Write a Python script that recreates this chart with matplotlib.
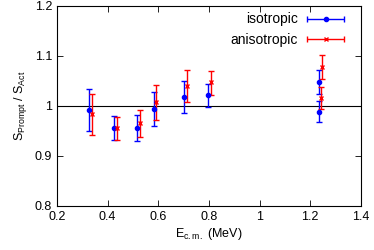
import numpy as np
import matplotlib
matplotlib.use("Agg")
import matplotlib.pyplot as plt
from matplotlib.container import ErrorbarContainer
from matplotlib.legend_handler import HandlerErrorbar

plt.rcParams['font.family'] = ['Liberation Sans', 'DejaVu Sans']

# isotropic
iso_x = [0.327, 0.425, 0.518, 0.582, 0.701, 0.796, 1.233, 1.233]
iso_y = [0.993, 0.956, 0.957, 0.995, 1.019, 1.022, 0.989, 1.049]
iso_lo = [0.951, 0.932, 0.931, 0.960, 0.987, 0.999, 0.969, 1.025]
iso_hi = [1.035, 0.980, 0.983, 1.029, 1.051, 1.045, 1.011, 1.072]

# anisotropic
ani_x = [0.338, 0.437, 0.528, 0.591, 0.712, 0.808, 1.245, 1.243]
ani_y = [0.985, 0.957, 0.966, 1.009, 1.041, 1.049, 1.079, 1.017]
ani_lo = [0.943, 0.933, 0.939, 0.973, 1.009, 1.023, 1.055, 0.995]
ani_hi = [1.025, 0.979, 0.992, 1.043, 1.072, 1.071, 1.103, 1.039]

fig = plt.figure(figsize=(3.74, 2.5), dpi=100)
ax = fig.add_axes([0.152, 0.176, 0.813, 0.8])

ax.axhline(1.0, color='black', lw=0.8, zorder=1)

def yerr(y, lo, hi):
    y = np.array(y)
    return [y - np.array(lo), np.array(hi) - y]

ax.errorbar(iso_x, iso_y, yerr=yerr(iso_y, iso_lo, iso_hi), fmt='o', ms=3,
            color='#0000ff', elinewidth=1, capsize=2, capthick=1)
ax.errorbar(ani_x, ani_y, yerr=yerr(ani_y, ani_lo, ani_hi), fmt='x', ms=3.5,
            color='#ff0000', elinewidth=1, capsize=2, capthick=1, mew=1)

# legend proxies with horizontal bars (gnuplot style)
h1 = ax.errorbar([np.nan], [np.nan], xerr=[1], fmt='o', ms=3, color='#0000ff',
                 elinewidth=1, capsize=2, capthick=1)
h2 = ax.errorbar([np.nan], [np.nan], xerr=[1], fmt='x', ms=3.5, color='#ff0000',
                 elinewidth=1, capsize=2, capthick=1, mew=1)
ax.legend([h1, h2], ['isotropic', 'anisotropic'], loc='upper right',
          bbox_to_anchor=(0.948, 0.968),
          frameon=False, markerfirst=False, handlelength=2.8, fontsize=10,
          borderaxespad=0, borderpad=0, handletextpad=0.6, labelspacing=0.45,
          handler_map={ErrorbarContainer: HandlerErrorbar(xerr_size=1.35)})

ax.set_xlim(0.2, 1.4)
ax.set_ylim(0.8, 1.2)
ax.set_xticks([0.2, 0.4, 0.6, 0.8, 1.0, 1.2, 1.4])
ax.set_xticklabels(['0.2', '0.4', '0.6', '0.8', '1', '1.2', '1.4'])
ax.set_yticks([0.8, 0.9, 1.0, 1.1, 1.2])
ax.set_yticklabels(['0.8', '0.9', '1', '1.1', '1.2'])
ax.tick_params(direction='in', top=True, right=True, labelsize=9, length=4, width=0.6)
for s in ax.spines.values():
    s.set_linewidth(0.8)

ax.set_xlabel(r'E$_{\mathregular{c.m.}}$ (MeV)', fontsize=9, labelpad=2)
ax.set_ylabel(r'S$_{\mathregular{Prompt}}$ / S$_{\mathregular{Act}}$', fontsize=9, labelpad=4)

fig.savefig('out.png', dpi=100)
